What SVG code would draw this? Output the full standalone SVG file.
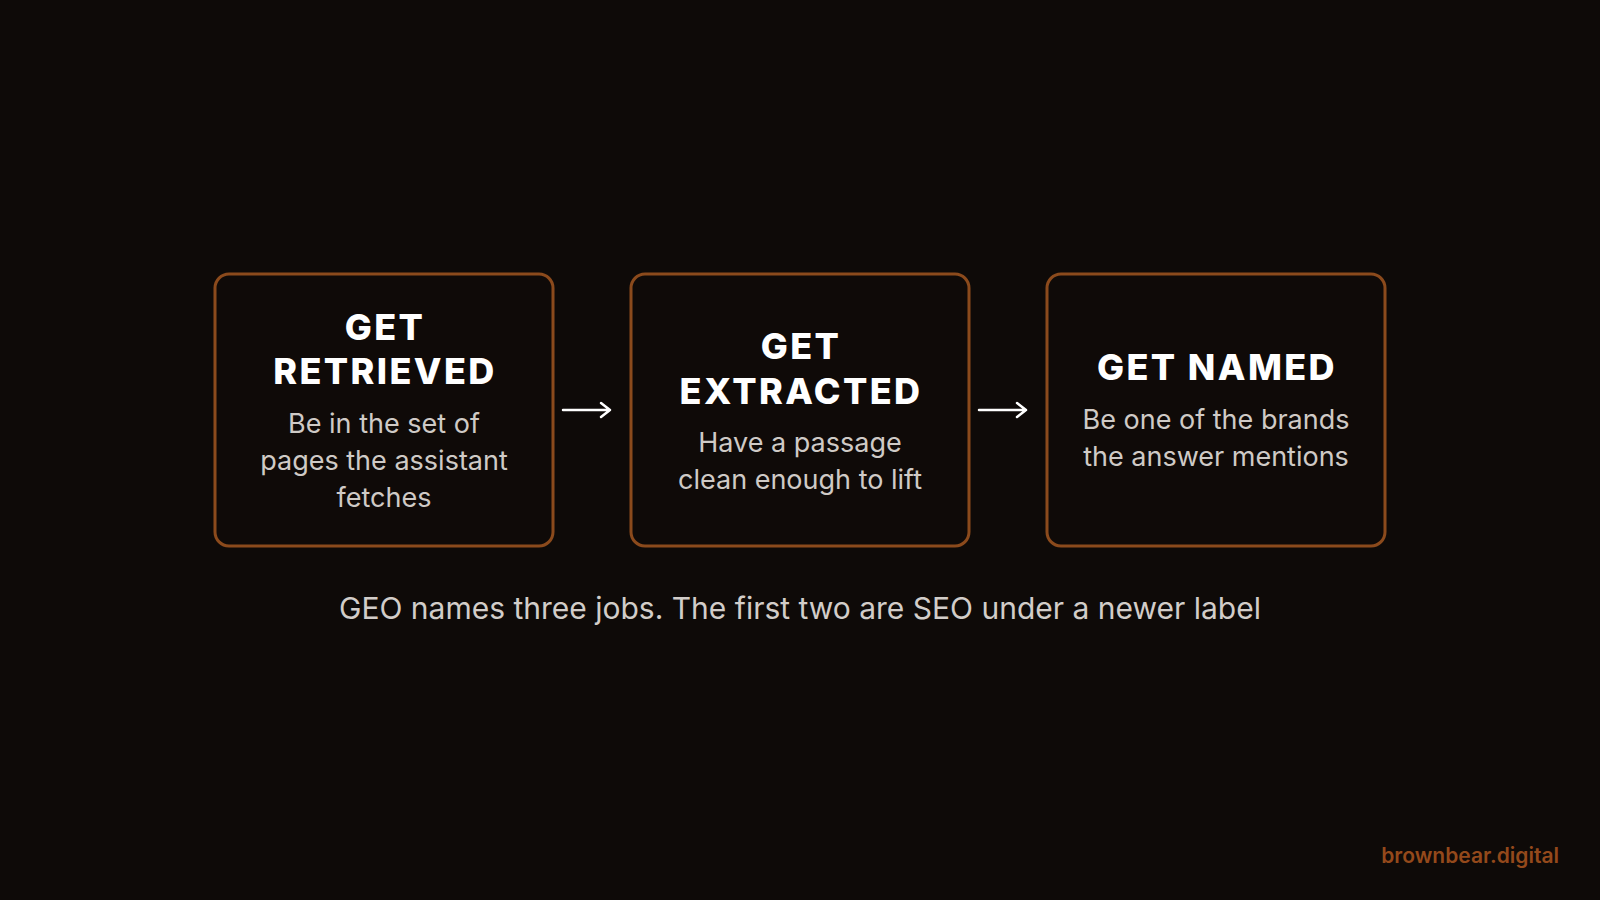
<svg xmlns="http://www.w3.org/2000/svg" width="1600" height="900" viewBox="0 0 1600 900">
<style>
.box{fill:#0f0a08;stroke:#8b4a1c;stroke-width:3}
.title{font-family:Inter,"Liberation Sans",sans-serif;font-weight:800;font-size:36px;fill:#ffffff;text-anchor:middle;letter-spacing:2.4px}
.body{font-family:Inter,"Liberation Sans",sans-serif;font-size:27px;fill:#cfcac6;text-anchor:middle}
.cap{font-family:Inter,"Liberation Sans",sans-serif;font-size:30px;fill:#d2cdc9;text-anchor:middle}
.brand{font-family:Inter,"Liberation Sans",sans-serif;font-weight:600;font-size:21px;fill:#94491b;text-anchor:end}
.arrow{stroke:#ffffff;stroke-width:2.5;fill:none;stroke-linecap:round;stroke-linejoin:round}
</style>
<rect width="1600" height="900" fill="#0e0a08"/>
<g id="node-retrieved">
<rect class="box" x="215" y="274" width="338" height="272" rx="14"/>
<text class="title" x="385" y="340">GET</text>
<text class="title" x="385" y="384">RETRIEVED</text>
<text class="body" x="384" y="433">Be in the set of</text>
<text class="body" x="384" y="470">pages the assistant</text>
<text class="body" x="384" y="507">fetches</text>
</g>
<g id="node-extracted">
<rect class="box" x="631" y="274" width="338" height="272" rx="14"/>
<text class="title" x="801" y="359">GET</text>
<text class="title" x="801" y="404">EXTRACTED</text>
<text class="body" x="800" y="452">Have a passage</text>
<text class="body" x="800" y="489">clean enough to lift</text>
</g>
<g id="node-named">
<rect class="box" x="1047" y="274" width="338" height="272" rx="14"/>
<text class="title" x="1217" y="380">GET NAMED</text>
<text class="body" x="1216" y="429">Be one of the brands</text>
<text class="body" x="1216" y="466">the answer mentions</text>
</g>
<g id="connectors">
<path class="arrow" d="M563 410 H610 M601 403 L610 410 L601 417"/>
<path class="arrow" d="M979 410 H1026 M1017 403 L1026 410 L1017 417"/>
</g>
<text class="cap" x="800" y="619">GEO names three jobs. The first two are SEO under a newer label</text>
<text class="brand" x="1559" y="863">brownbear.digital</text>
</svg>
